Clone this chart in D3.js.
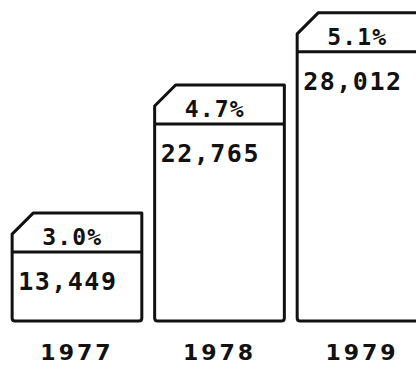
<!DOCTYPE html>
<html>
<head>
<meta charset="utf-8">
<script src="https://cdn.jsdelivr.net/npm/d3@7"></script>
<style>
  html, body { margin: 0; padding: 0; background: #fff; }
  svg { display: block; }
</style>
</head>
<body>
<svg id="chart" width="416" height="378"></svg>
<script>
// Annual totals with growth rate shown in each bar's header
const years = ["1977", "1978", "1979"];
const totals = [13449, 22765, 28012];
const rates = ["3.0%", "4.7%", "5.1%"];

const W = 416, H = 378;
const baseY = 321;

const svg = d3.select("#chart");

const x = d3.scaleBand()
  .domain(years)
  .range([5, 434])
  .paddingInner(0.09)
  .paddingOuter(0.05);

const y = d3.scaleLinear()
  .domain([5600, 28000])
  .range([baseY, 13]);

const rows = years.map((yr, i) => ({ year: yr, total: totals[i], rate: rates[i] }));

const chamfer = 21;
const headerH = 39;
const fmt = d3.format(",");

const g = svg.append("g");

const bar = g.selectAll("g.bar")
  .data(rows)
  .join("g")
  .attr("class", "bar");

// Box outline with cut top-left corner
bar.append("path")
  .attr("d", d => {
    const l = x(d.year), r = l + x.bandwidth(), t = y(d.total);
    const p = d3.path();
    p.moveTo(l, baseY - 3);
    p.lineTo(l, t + chamfer);
    p.lineTo(l + chamfer, t);
    p.lineTo(r, t);
    p.lineTo(r, baseY - 3);
    p.quadraticCurveTo(r, baseY, r - 3, baseY);
    p.lineTo(l + 3, baseY);
    p.quadraticCurveTo(l, baseY, l, baseY - 3);
    p.closePath();
    return p.toString();
  })
  .attr("fill", "#fff")
  .attr("stroke", "#111")
  .attr("stroke-width", 3)
  .attr("stroke-linejoin", "round");

// Divider under the rate header
bar.append("line")
  .attr("x1", d => x(d.year))
  .attr("x2", d => x(d.year) + x.bandwidth())
  .attr("y1", d => y(d.total) + headerH)
  .attr("y2", d => y(d.total) + headerH)
  .attr("stroke", "#111")
  .attr("stroke-width", 3);

// Growth rate
bar.append("text")
  .attr("x", d => x(d.year) + 30)
  .attr("y", d => y(d.total) + 32)
  .attr("font-family", "'DejaVu Sans Mono', monospace")
  .attr("font-weight", "bold")
  .attr("font-size", 23)
  .attr("letter-spacing", 1.2)
  .attr("fill", "#111")
  .text(d => d.rate);

// Total value
bar.append("text")
  .attr("x", d => x(d.year) + 6)
  .attr("y", d => y(d.total) + 77)
  .attr("font-family", "'DejaVu Sans Mono', monospace")
  .attr("font-weight", "bold")
  .attr("font-size", 25)
  .attr("letter-spacing", 1.5)
  .attr("fill", "#111")
  .text(d => fmt(d.total));

// Year labels under the boxes
const xAxis = d3.axisBottom(x).tickSize(0).tickPadding(0);
const axisG = svg.append("g")
  .attr("transform", `translate(0, ${baseY})`)
  .call(xAxis);
axisG.select(".domain").remove();
axisG.selectAll("text")
  .attr("dy", 0)
  .attr("y", 39)
  .attr("font-family", "'DejaVu Sans', sans-serif")
  .attr("font-weight", "bold")
  .attr("font-size", 22)
  .attr("letter-spacing", 3)
  .attr("fill", "#111");
</script>
</body>
</html>
